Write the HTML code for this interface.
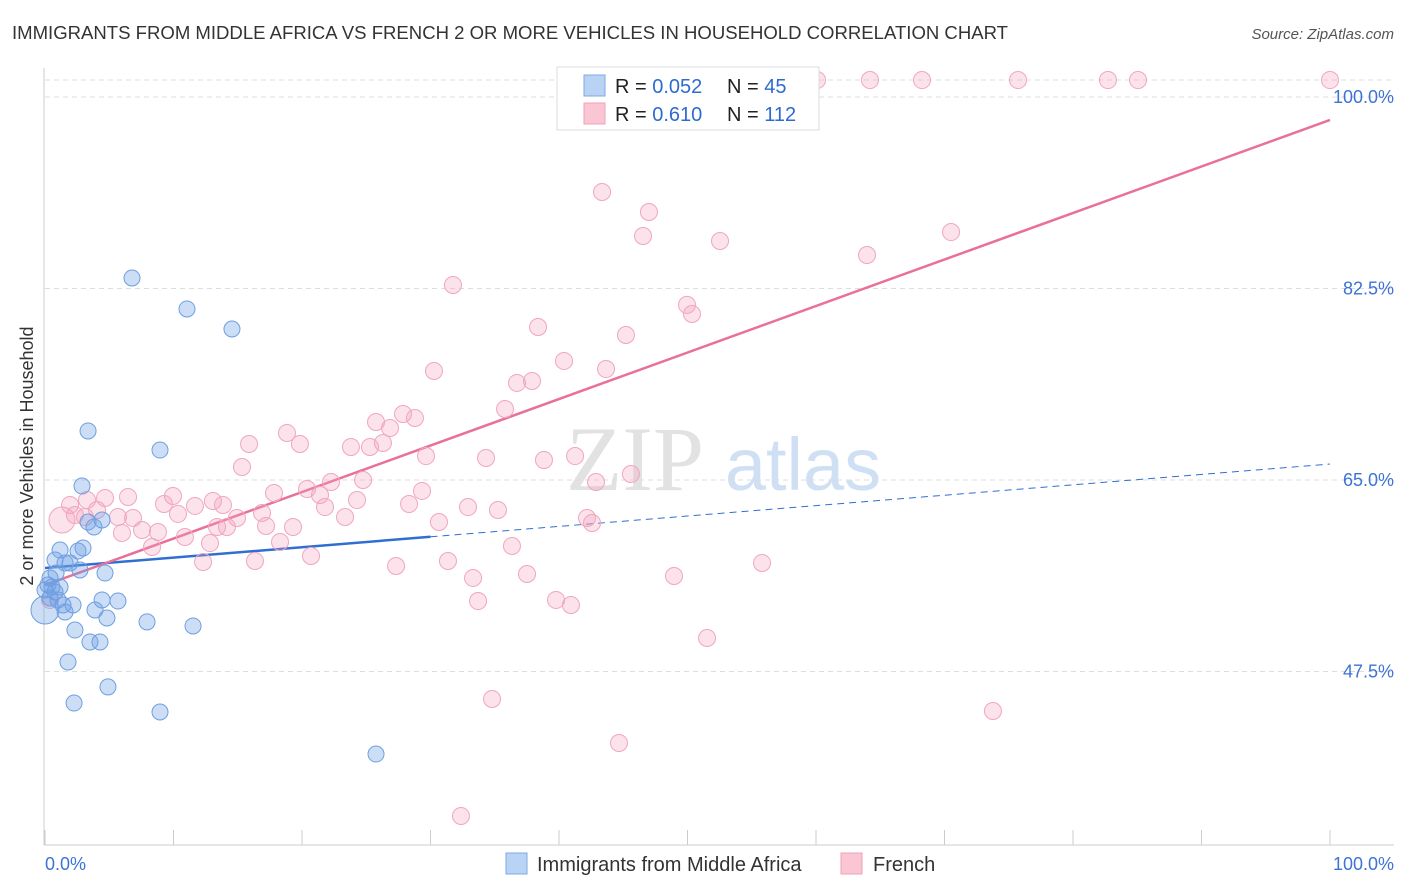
<!DOCTYPE html>
<html><head><meta charset="utf-8"><style>
body{margin:0;background:#fff;font-family:"Liberation Sans",sans-serif;}
svg{display:block}
</style></head><body>
<svg id="chart" width="1406" height="892">
<text x="12" y="39" font-size="18" fill="#333" textLength="996" lengthAdjust="spacingAndGlyphs">IMMIGRANTS FROM MIDDLE AFRICA VS FRENCH 2 OR MORE VEHICLES IN HOUSEHOLD CORRELATION CHART</text>
<text x="1394" y="39" font-size="15" fill="#555" font-style="italic" text-anchor="end">Source: ZipAtlas.com</text>
<text x="33" y="456" font-size="18" fill="#333" text-anchor="middle" transform="rotate(-90 33 456)">2 or more Vehicles in Household</text>
<g><text x="635" y="490" font-size="92" fill="#e2e2e2" font-family="Liberation Serif,serif" text-anchor="middle">ZIP</text><text x="803" y="490" font-size="74" fill="#d0e0f4" text-anchor="middle">atlas</text></g>
<g id="grid"></g><g id="axes"></g><g id="lines"></g><g id="pts"></g>
<g>
<rect x="557" y="67" width="262" height="63" fill="#fff" stroke="#ddd"/>
<rect x="584" y="75" width="21" height="21" fill="#b9d3f5" stroke="#7ea9e6"/>
<rect x="584" y="103" width="21" height="21" fill="#fac6d4" stroke="#f0a0ba"/>
<text x="615" y="93" font-size="20" fill="#222">R = <tspan fill="#2e6bd0">0.052</tspan></text>
<text x="727" y="93" font-size="20" fill="#222">N = <tspan fill="#2e6bd0"> 45</tspan></text>
<text x="615" y="121" font-size="20" fill="#222">R = <tspan fill="#2e6bd0"> 0.610</tspan></text>
<text x="727" y="121" font-size="20" fill="#222">N = <tspan fill="#2e6bd0">112</tspan></text>
</g>
<g>
<rect x="506" y="853" width="21" height="21" fill="#b9d3f5" stroke="#7ea9e6"/>
<text x="537" y="871" font-size="20" fill="#333">Immigrants from Middle Africa</text>
<rect x="841" y="853" width="21" height="21" fill="#fac6d4" stroke="#f0a0ba"/>
<text x="873" y="871" font-size="20" fill="#333">French</text>
</g>
</svg>
<script>
const yTicks=[47.5,65,82.5,100];
const yTickLabels=["47.5%","65.0%","82.5%","100.0%"];
const xTickLabels=["0.0%","100.0%"];
const blueX=[6.77,11.05,14.55,3.35,8.95,2.88,4.44,3.35,3.81,1.17,2.96,2.57,0.78,1.95,1.56,2.72,4.67,0.86,0.39,0.23,0.54,1.17,0.78,2.18,1.40,1.56,3.89,5.68,4.44,4.82,7.94,11.52,2.33,3.50,4.28,1.79,4.90,2.26,8.95,25.76,0,0.39,1.01,0];
const blueY=[83.46,80.63,78.80,69.48,67.74,64.45,61.35,61.16,60.71,58.60,58.79,58.51,57.69,57.42,57.42,56.78,56.50,56.50,56.05,55.41,55.22,55.22,54.77,53.58,53.58,52.94,53.12,53.94,54.04,52.39,52.03,51.66,51.29,50.20,50.20,48.37,46.09,44.62,43.80,39.96,53.12,54.22,54.04,54.95];
const pinkX=[46.69,60.08,64.20,68.25,75.72,82.72,85.06,100,43.35,47.00,46.54,52.53,70.51,63.97,31.75,49.96,50.35,38.37,45.21,40.39,30.27,43.66,36.73,37.90,35.80,25.76,27.86,28.79,26.85,26.30,23.81,25.29,15.88,18.83,19.84,29.65,34.32,38.83,41.25,15.33,24.75,22.26,20.39,17.82,21.40,45.60,42.88,29.34,9.96,13.07,9.26,13.85,21.79,24.28,28.33,32.92,35.25,42.18,42.57,30.66,10.35,11.67,14.94,16.89,17.20,19.30,23.35,13.39,14.16,5.68,6.85,8.79,10.89,12.84,8.33,7.55,18.29,36.34,20.70,16.34,12.30,27.32,31.36,55.80,33.31,37.51,48.95,33.70,39.77,40.93,51.52,34.79,73.77,44.67,32.37,4.67,3.27,1.95,4.05,1.32,2.33,3.11,0.39,6.46,5.99];
const pinkY=[101.55,101.55,101.55,101.55,101.55,101.55,101.55,101.55,91.32,89.49,87.30,86.84,87.66,85.56,82.82,81.00,80.17,78.98,78.25,75.88,74.96,75.14,73.87,74.05,71.49,70.30,71.03,70.67,69.75,68.38,68.02,68.02,68.29,69.30,68.29,67.19,67.01,66.83,67.19,66.19,65.00,64.82,64.18,63.81,63.63,65.55,64.82,64.00,63.54,63.08,62.81,62.72,62.53,63.17,62.81,62.53,62.26,61.53,61.07,61.16,61.90,62.63,61.53,61.99,60.80,60.71,61.62,60.71,60.71,61.62,61.53,60.25,59.79,59.24,58.88,60.43,59.34,58.97,58.06,57.60,57.51,57.14,57.60,57.42,56.05,56.41,56.23,53.94,54.04,53.58,50.56,44.99,43.89,40.97,34.30,63.36,63.17,62.72,62.26,61.35,61.80,61.62,54.04,63.45,60.16];
const blueTrend=[56.96,66.46];
const pinkTrend=[55.4,97.9];
const NS="http://www.w3.org/2000/svg";
const X=v=>45+v*12.85, Y=v=>97+(100-v)*10.943;
function mk(t,a,p){const e=document.createElementNS(NS,t);for(const k in a)e.setAttribute(k,a[k]);document.getElementById(p).appendChild(e);return e;}
mk('line',{x1:45,x2:1394,y1:80,y2:80,stroke:'#ddd','stroke-dasharray':'5,4'},'grid');
yTicks.forEach((t,i)=>{
 const g=mk('line',{x1:45,x2:1394,y1:Y(t),y2:Y(t),stroke:'#ddd','stroke-dasharray':'5,4'},'grid');
 
 
 const l=mk('text',{x:1394,y:Y(t)+6,'font-size':18,fill:'#3d72d6','text-anchor':'end'},'axes');
 l.textContent=yTickLabels[i];
 
 
});
mk('line',{x1:44,x2:44,y1:68,y2:845,stroke:'#ccc'},'axes');
mk('line',{x1:44,x2:1394,y1:845,y2:845,stroke:'#ccc'},'axes');
for(let i=0;i<=10;i++){const t=mk('line',{x1:X(i*10),x2:X(i*10),y1:830,y2:845,stroke:'#ccc'},'axes');}
[[0,45,'start'],[100,1394,'end']].forEach((d,i)=>{const l=mk('text',{x:d[1],y:870,'font-size':18,fill:'#3d72d6','text-anchor':d[2]},'axes');l.textContent=xTickLabels[i];});
const bAt=v=>blueTrend[0]+(blueTrend[1]-blueTrend[0])*v/100;
let e=mk('line',{x1:X(0),y1:Y(bAt(0)),x2:X(30),y2:Y(bAt(30)),stroke:'#2f6fd0','stroke-width':2.5},'lines');


e=mk('line',{x1:X(30),y1:Y(bAt(30)),x2:X(100),y2:Y(bAt(100)),stroke:'#2f6fd0','stroke-width':1,'stroke-dasharray':'7,5'},'lines');


e=mk('line',{x1:X(0),y1:Y(pinkTrend[0]),x2:X(100),y2:Y(pinkTrend[1]),stroke:'#e8709a','stroke-width':2.5},'lines');


pinkX.forEach((x,i)=>{const c=mk('circle',{cx:X(x),cy:Y(pinkY[i]),r:(i==99?13:8.5),fill:'rgba(245,160,190,0.3)',stroke:'#f0a6bf','stroke-width':1},'pts');

});
blueX.forEach((x,i)=>{const c=mk('circle',{cx:X(x),cy:Y(blueY[i]),r:(i==40?14:8),fill:'rgba(110,160,230,0.35)',stroke:'#6f9fe0','stroke-width':1},'pts');

});
</script>
</body></html>
